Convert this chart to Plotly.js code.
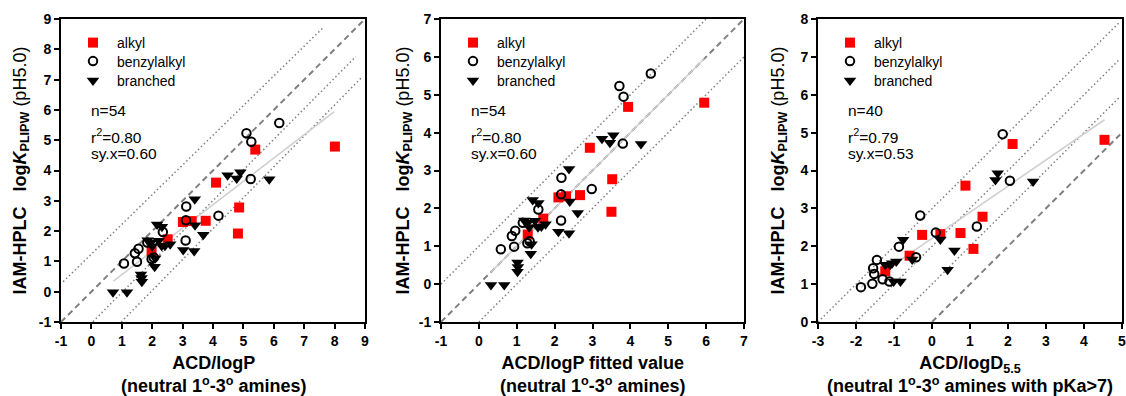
<!DOCTYPE html>
<html><head><meta charset="utf-8">
<script src="https://cdn.plot.ly/plotly-3.0.1.min.js"></script>
<style>html,body{margin:0;padding:0;background:#fff;}#chart{width:1126px;height:396px;}</style>
</head><body><div id="chart"></div>
<script>
// ---------- Panel 1: ACD/logP ----------
const p1AlkylX = [8.01, 5.39, 4.10, 4.86, 4.82, 3.76, 3.30, 3.01, 2.51, 1.98];
const p1AlkylY = [4.79, 4.69, 3.60, 2.78, 1.92, 2.34, 2.33, 2.30, 1.73, 1.33];
const p1BenzX = [6.18, 5.10, 5.26, 5.24, 4.18, 3.12, 3.11, 3.10, 2.35, 1.84, 1.55, 1.43, 1.50, 1.07, 1.98, 2.05];
const p1BenzY = [5.57, 5.23, 4.95, 3.72, 2.51, 2.81, 2.36, 1.69, 1.97, 1.62, 1.42, 1.27, 0.99, 0.93, 1.08, 1.13];
const p1BranX = [5.85, 4.90, 4.78, 4.48, 3.40, 3.41, 3.68, 3.38, 3.02, 2.59, 2.31, 2.16, 2.32, 2.21, 1.85, 2.10, 2.08, 1.63, 1.65, 1.66, 0.71, 1.17, 2.42, 2.00, 1.95];
const p1BranY = [3.71, 3.94, 3.74, 3.84, 3.05, 2.19, 1.88, 1.34, 1.38, 1.57, 1.52, 2.22, 2.14, 1.68, 1.70, 1.10, 0.82, 0.57, 0.45, 0.33, -0.02, -0.02, 1.52, 1.50, 1.62];
const p1FitX = [0.72, 7.99];
const p1FitY = [0.35, 5.94];
const p1IdentX = [-1, 9];
const p1IdentY = [-1, 9];
const p1UpperX = [-0.93, 7.62];
const p1UpperY = [0.33, 8.71];
const p1MidX = [0.05, 8.70];
const p1MidY = [-0.99, 7.76];
const p1LowX = [0.98, 8.92];
const p1LowY = [-1.0, 7.10];
const p1Ticks = [-1, 0, 1, 2, 3, 4, 5, 6, 7, 8, 9];

// ---------- Panel 2: ACD/logP fitted value ----------
const p2AlkylX = [5.95, 3.94, 2.93, 3.52, 3.50, 2.67, 2.30, 2.10, 1.70, 1.29];
const p2AlkylY = [4.79, 4.68, 3.60, 2.77, 1.91, 2.35, 2.32, 2.29, 1.73, 1.31];
const p2BenzX = [4.54, 3.71, 3.82, 3.80, 2.98, 2.18, 2.17, 2.17, 1.57, 1.16, 0.96, 0.87, 0.93, 0.58, 1.28, 1.34];
const p2BenzY = [5.56, 5.23, 4.95, 3.71, 2.51, 2.81, 2.37, 1.68, 1.97, 1.62, 1.41, 1.27, 0.99, 0.92, 1.08, 1.13];
const p2BranX = [4.28, 3.55, 3.46, 3.25, 2.38, 2.40, 2.61, 2.38, 2.10, 1.76, 1.56, 1.42, 1.57, 1.48, 1.20, 1.39, 1.37, 1.02, 1.03, 1.02, 0.32, 0.67, 1.65, 1.33, 1.29];
const p2BranY = [3.70, 3.93, 3.73, 3.84, 3.04, 2.18, 1.88, 1.34, 1.38, 1.58, 1.50, 2.22, 2.14, 1.67, 1.68, 1.05, 0.80, 0.57, 0.45, 0.33, -0.02, -0.02, 1.52, 1.50, 1.62];
const p2FitX = [0.32, 5.95];
const p2FitY = [0.32, 5.95];
const p2IdentX = [-1, 7];
const p2IdentY = [-1, 7];
const p2UpperX = [-1, 6];
const p2UpperY = [0, 7];
const p2LowX = [0, 7];
const p2LowY = [-1, 6];
const p2Ticks = [-1, 0, 1, 2, 3, 4, 5, 6, 7];

// ---------- Panel 3: ACD/logD5.5 ----------
const p3AlkylX = [4.54, 2.12, 0.88, 1.33, 1.09, 0.75, 0.22, -0.26, -0.59, -1.23];
const p3AlkylY = [4.81, 4.70, 3.60, 2.78, 1.93, 2.35, 2.32, 2.30, 1.75, 1.34];
const p3BenzX = [1.86, 2.05, 1.18, -0.31, 0.10, -0.87, -0.42, -1.45, -1.55, -1.52, -1.30, -1.12, -1.57, -1.87];
const p3BenzY = [4.96, 3.73, 2.52, 2.81, 2.36, 1.99, 1.71, 1.64, 1.42, 1.27, 1.13, 1.07, 1.01, 0.92];
const p3BranX = [1.67, 1.73, 2.66, 0.22, 0.59, 0.41, -0.76, -0.94, -1.10, -1.23, -0.83, -1.01, -0.52, -1.05];
const p3BranY = [3.75, 3.93, 3.71, 2.18, 1.89, 1.38, 2.17, 1.60, 1.51, 1.51, 1.07, 1.07, 1.65, 1.55];
const p3FitX = [-1.87, 4.54];
const p3FitY = [0.92, 5.34];
const p3IdentX = [0, 4.95];
const p3IdentY = [0, 4.95];
const p3Band1X = [-3, 4.91];
const p3Band1Y = [0, 7.89];
const p3Band2X = [-2, 4.92];
const p3Band2Y = [0, 6.92];
const p3Band3X = [-1, 4.94];
const p3Band3Y = [0, 5.94];
const p3XTicks = [-3, -2, -1, 0, 1, 2, 3, 4, 5];
const p3YTicks = [0, 1, 2, 3, 4, 5, 6, 7, 8];

const seriesNames = ['alkyl', 'benzylalkyl', 'branched'];
const statsText = [
  ['n=54', 'r<sup>2</sup>=0.80', 'sy.x=0.60'],
  ['n=54', 'r<sup>2</sup>=0.80', 'sy.x=0.60'],
  ['n=40', 'r<sup>2</sup>=0.79', 'sy.x=0.53']
];
const xTitles = [
  '<b>ACD/logP</b><br><b>(neutral 1<sup>o</sup>-3<sup>o</sup> amines)</b>',
  '<b>ACD/logP fitted value</b><br><b>(neutral 1<sup>o</sup>-3<sup>o</sup> amines)</b>',
  '<b>ACD/logD<sub>5.5</sub></b><br><b>(neutral 1<sup>o</sup>-3<sup>o</sup> amines with pKa>7)</b>'
];
const yTitle = '<b>IAM-HPLC\u00a0\u00a0\u00a0log<i>K</i><sub>PLIPW</sub></b> (pH5.0)';

// ---------- styling / layout ----------
const W = 1126, H = 396;
const FONT = 'Liberation Sans, Arial, sans-serif';
const fx = p => p / W;
const fy = p => 1 - p / H;
const panels = [
  {xa: 'x', ya: 'y', left: 61, right: 365, legMarker: 93},
  {xa: 'x2', ya: 'y2', left: 441, right: 744, legMarker: 473},
  {xa: 'x3', ya: 'y3', left: 818, right: 1122, legMarker: 850}
];
const TOP = 19, BOT = 322;
const legendRows = [43, 61.5, 81];
const ITEMW = 38;

const dotted = {color: '#808080', width: 1.5, dash: '1.5px,2.6px'};
const dashed = {color: '#808080', width: 2, dash: '6px,4px'};
const fitLine = {color: '#d0d0d0', width: 1.6};

function line(xs, ys, style, p) {
  return {x: xs, y: ys, xaxis: p.xa, yaxis: p.ya, mode: 'lines', line: style,
          showlegend: false, hoverinfo: 'skip'};
}
function legendId(pi, kind) {
  const n = pi * 3 + kind + 1;
  return n === 1 ? 'legend' : 'legend' + n;
}
function pts(xs, ys, kind, pi) {
  const p = panels[pi];
  const m = kind === 0 ? {symbol: 'square', size: 10, color: '#ff0000', line: {width: 0}}
          : kind === 1 ? {symbol: 'circle-open', size: 8.5, color: '#000', line: {width: 2, color: '#000'}}
          : {symbol: 'triangle-down', size: 11, color: '#000', line: {width: 0}};
  return {x: xs, y: ys, xaxis: p.xa, yaxis: p.ya, mode: 'markers', marker: m,
          name: seriesNames[kind], legend: legendId(pi, kind), showlegend: true};
}

const P = panels;
const traces = [
  line(p1UpperX, p1UpperY, dotted, P[0]), line(p1MidX, p1MidY, dotted, P[0]), line(p1LowX, p1LowY, dotted, P[0]),
  line(p1IdentX, p1IdentY, dashed, P[0]), line(p1FitX, p1FitY, fitLine, P[0]),
  pts(p1AlkylX, p1AlkylY, 0, 0), pts(p1BenzX, p1BenzY, 1, 0), pts(p1BranX, p1BranY, 2, 0),

  line(p2UpperX, p2UpperY, dotted, P[1]), line(p2LowX, p2LowY, dotted, P[1]),
  line(p2IdentX, p2IdentY, dashed, P[1]), line(p2FitX, p2FitY, fitLine, P[1]),
  pts(p2AlkylX, p2AlkylY, 0, 1), pts(p2BenzX, p2BenzY, 1, 1), pts(p2BranX, p2BranY, 2, 1),

  line(p3Band1X, p3Band1Y, dotted, P[2]), line(p3Band2X, p3Band2Y, dotted, P[2]), line(p3Band3X, p3Band3Y, dotted, P[2]),
  line(p3IdentX, p3IdentY, dashed, P[2]), line(p3FitX, p3FitY, fitLine, P[2]),
  pts(p3AlkylX, p3AlkylY, 0, 2), pts(p3BenzX, p3BenzY, 1, 2), pts(p3BranX, p3BranY, 2, 2)
];

function axis(p, range, ticks, isX) {
  const dom = isX ? [fx(p.left), fx(p.right)] : [fy(BOT), fy(TOP)];
  return {
    domain: dom, range: range, anchor: isX ? p.ya : p.xa,
    tickvals: ticks, ticktext: ticks.map(String), ticklabeloverflow: 'allow',
    showline: true, linewidth: 2, linecolor: '#000', mirror: true,
    ticks: 'outside', ticklen: 5, tickwidth: 2, tickcolor: '#000',
    showgrid: false, zeroline: false, fixedrange: true,
    tickfont: {family: FONT, size: 14, color: '#000', weight: 'bold'}
  };
}

const layout = {
  width: W, height: H, margin: {l: 0, r: 0, t: 0, b: 0, autoexpand: false},
  paper_bgcolor: '#fff', plot_bgcolor: '#fff', font: {family: FONT, color: '#000'},
  xaxis: axis(P[0], [-1, 9], p1Ticks, true), yaxis: axis(P[0], [-1, 9], p1Ticks, false),
  xaxis2: axis(P[1], [-1, 7], p2Ticks, true), yaxis2: axis(P[1], [-1, 7], p2Ticks, false),
  xaxis3: axis(P[2], [-3, 5], p3XTicks, true), yaxis3: axis(P[2], [0, 8], p3YTicks, false),
  hovermode: false
};

P.forEach((p, pi) => {
  legendRows.forEach((row, k) => {
    layout[legendId(pi, k)] = {
      x: fx(p.legMarker - (ITEMW / 2 + 5)), y: fy(row), xanchor: 'left', yanchor: 'middle',
      bgcolor: 'rgba(0,0,0,0)', borderwidth: 0, itemwidth: ITEMW,
      font: {family: FONT, size: 14, color: '#000'}, itemclick: false, itemdoubleclick: false
    };
  });
});

const annotations = [];
const statLeft = [89, 469, 846];
const statY = [111, 136, 153];
const yTitleX = [21, 404, 779];
P.forEach((p, i) => {
  statsText[i].forEach((t, j) => annotations.push({
    xref: 'paper', yref: 'paper', x: fx(statLeft[i]), y: fy(statY[j]), xanchor: 'left', yanchor: 'middle',
    text: t, showarrow: false, font: {family: FONT, size: 15.5, color: '#000'}
  }));
  annotations.push({
    xref: 'paper', yref: 'paper', x: fx((p.left + p.right) / 2), y: fy(374), xanchor: 'center', yanchor: 'middle',
    text: xTitles[i], showarrow: false, font: {family: FONT, size: 18, color: '#000'}
  });
  annotations.push({
    xref: 'paper', yref: 'paper', x: fx(yTitleX[i]), y: fy((TOP + BOT) / 2), xanchor: 'center', yanchor: 'middle',
    text: yTitle, textangle: -90, showarrow: false, font: {family: FONT, size: 18, color: '#000'}
  });
});
layout.annotations = annotations;

Plotly.newPlot('chart', traces, layout, {displayModeBar: false, staticPlot: true});
</script></body></html>
